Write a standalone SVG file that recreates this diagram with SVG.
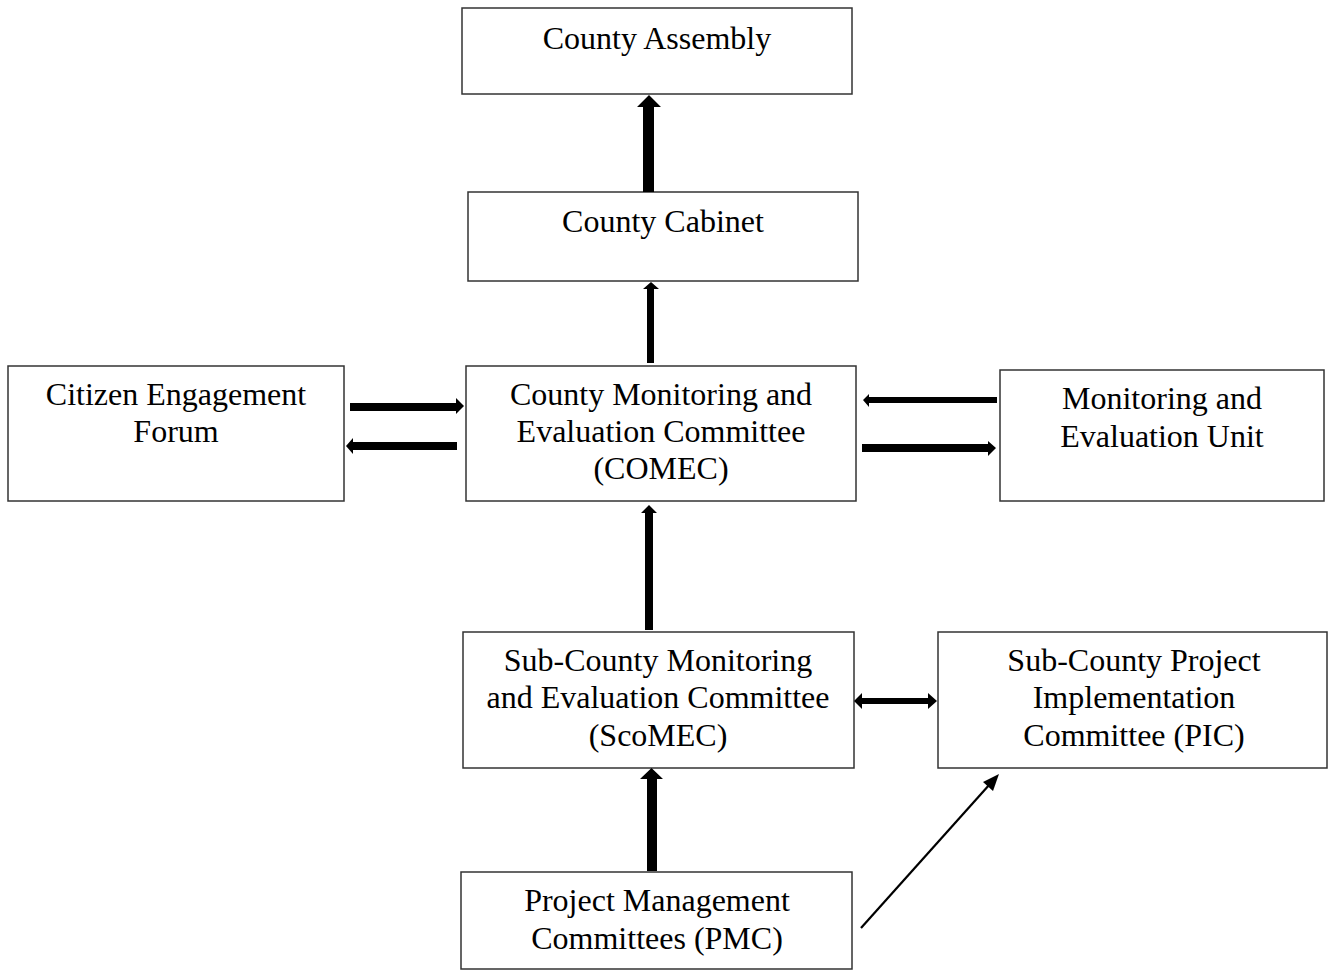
<svg xmlns="http://www.w3.org/2000/svg" width="1328" height="971" viewBox="0 0 1328 971">
<style>
.box{fill:#fff;stroke:#333;stroke-width:1.5}
.t{font-family:"Liberation Serif","Times New Roman",serif;font-size:32px;fill:#000;text-anchor:middle}
.a{fill:#000}
</style>
<rect width="1328" height="971" fill="#fff"/>
<g id="county-assembly"><rect class="box" x="462" y="8" width="390" height="86"/><text class="t" x="657" y="49">County Assembly</text></g>
<g id="county-cabinet"><rect class="box" x="468" y="192" width="390" height="89"/><text class="t" x="663" y="232">County Cabinet</text></g>
<g id="comec"><rect class="box" x="466" y="366" width="390" height="135"/><text class="t" x="661" y="405">County Monitoring and</text><text class="t" x="661" y="442">Evaluation Committee</text><text class="t" x="661" y="479">(COMEC)</text></g>
<g id="citizen-forum"><rect class="box" x="8" y="366" width="336" height="135"/><text class="t" x="176" y="405">Citizen Engagement</text><text class="t" x="176" y="442">Forum</text></g>
<g id="me-unit"><rect class="box" x="1000" y="370" width="324" height="131"/><text class="t" x="1162" y="409">Monitoring and</text><text class="t" x="1162" y="447">Evaluation Unit</text></g>
<g id="scomec"><rect class="box" x="463" y="632" width="391" height="136"/><text class="t" x="658" y="671">Sub-County Monitoring</text><text class="t" x="658" y="708">and Evaluation Committee</text><text class="t" x="658" y="746">(ScoMEC)</text></g>
<g id="pic"><rect class="box" x="938" y="632" width="389" height="136"/><text class="t" x="1134" y="671">Sub-County Project</text><text class="t" x="1134" y="708">Implementation</text><text class="t" x="1134" y="746">Committee (PIC)</text></g>
<g id="pmc"><rect class="box" x="461" y="872" width="391" height="97"/><text class="t" x="657" y="911">Project Management</text><text class="t" x="657" y="949">Committees (PMC)</text></g>
<g id="connectors">
<polygon class="a" points="643,192 643,107 637,107 649,95 661,107 654,107 654,192"/>
<polygon class="a" points="647,363 647,289 643,289 651,282 659,289 654,289 654,363"/>
<polygon class="a" points="645,630 645,513 641,513 649,505 657,513 653,513 653,630"/>
<polygon class="a" points="647,871 647,779 640,779 651.5,768 663,779 657,779 657,871"/>
<polygon class="a" points="350,403 456,403 456,398 464,406 456,414 456,411 350,411"/>
<polygon class="a" points="457,442 353,442 353,438 346,446 353,454 353,450 457,450"/>
<polygon class="a" points="997,397 869,397 869,394 863,400 869,407 869,403 997,403"/>
<polygon class="a" points="862,444 988,444 988,441 996,448 988,456 988,452 862,452"/>
<polygon class="a" points="854,701 862,693 862,698 928,698 928,693 937,701 928,709 928,704 862,704 862,709"/>
<line x1="861" y1="928" x2="990" y2="784" stroke="#000" stroke-width="2.2"/>
<polygon class="a" points="999,774 983,782 993,791"/>
</g>
</svg>
